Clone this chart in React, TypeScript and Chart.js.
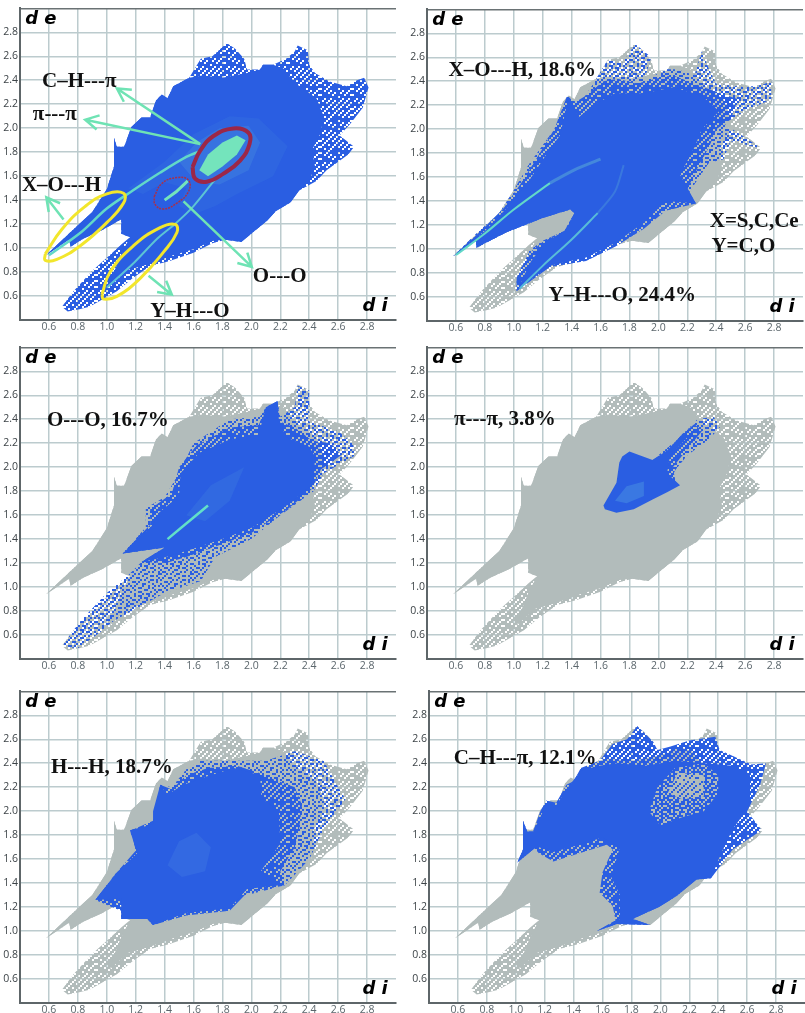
import React, { useEffect, useRef } from "react";
import { Chart, registerables } from "chart.js";

Chart.register(...registerables);

type Pt = [number, number];

const tickLabels = ["0.6","0.8","1.0","1.2","1.4","1.6","1.8","2.0","2.2","2.4","2.6","2.8"];

const outlineAll: Pt[] = [[0.58,0.94],[0.75,1.135],[0.9,1.3],[1.0,1.49],[1.05,1.68],[1.05,1.92],[1.07,1.845],[1.12,1.845],[1.17,2.01],[1.24,2.09],[1.3,2.09],[1.34,2.23],[1.38,2.28],[1.42,2.25],[1.46,2.35],[1.57,2.42],[1.65,2.58],[1.73,2.6],[1.83,2.71],[1.89,2.66],[1.95,2.58],[1.97,2.49],[2.06,2.49],[2.08,2.53],[2.15,2.53],[2.24,2.58],[2.3,2.64],[2.32,2.69],[2.39,2.65],[2.4,2.53],[2.44,2.46],[2.54,2.39],[2.66,2.35],[2.73,2.4],[2.78,2.42],[2.81,2.34],[2.77,2.17],[2.68,2.03],[2.61,1.94],[2.71,1.845],[2.67,1.78],[2.52,1.65],[2.45,1.56],[2.33,1.48],[2.27,1.38],[2.17,1.31],[2.11,1.23],[1.93,1.05],[1.82,1.07],[1.73,1.04],[1.6,0.96],[1.43,0.89],[1.3,0.85],[1.18,0.75],[1.07,0.64],[0.88,0.51],[0.81,0.49],[0.73,0.47],[0.69,0.51],[0.77,0.64],[0.9,0.81],[1.02,0.94],[1.1,1.03],[1.16,1.09],[1.1,1.12],[1.1,1.24],[0.97,1.15],[0.84,1.08],[0.75,1.01],[0.74,1.07]];

const coreAll: Pt[] = [[0.58,0.94],[0.75,1.135],[0.9,1.3],[1.0,1.49],[1.05,1.68],[1.05,1.92],[1.07,1.845],[1.12,1.845],[1.17,2.01],[1.24,2.09],[1.3,2.09],[1.34,2.23],[1.38,2.28],[1.42,2.25],[1.46,2.35],[1.57,2.42],[1.66,2.44],[1.8,2.42],[1.97,2.46],[2.06,2.49],[2.08,2.53],[2.15,2.53],[2.22,2.5],[2.3,2.38],[2.45,2.25],[2.5,2.1],[2.48,1.96],[2.42,1.82],[2.44,1.68],[2.4,1.56],[2.33,1.48],[2.27,1.38],[2.17,1.31],[2.11,1.23],[1.93,1.05],[1.82,1.07],[1.73,1.06],[1.6,0.99],[1.43,0.93],[1.3,0.87],[1.15,0.82],[1.02,0.68],[1.05,0.8],[1.1,0.95],[1.16,1.09],[1.1,1.12],[1.1,1.24],[0.97,1.15],[0.84,1.08],[0.75,1.01],[0.74,1.07]];

const p1GlowWide: Pt[] = [[1.15,1.5],[1.4,1.72],[1.6,1.95],[1.85,2.1],[2.05,2.08],[2.25,1.85],[2.15,1.6],[1.9,1.45],[1.75,1.35],[1.6,1.28],[1.5,1.35],[1.55,1.5],[1.4,1.55],[1.25,1.45]];
const p1GlowMid: Pt[] = [[1.5,1.72],[1.62,1.88],[1.78,2.0],[1.98,2.02],[2.06,1.88],[1.98,1.65],[1.78,1.53],[1.62,1.55]];
const p1Blob: Pt[] = [[1.64,1.65],[1.7,1.78],[1.8,1.88],[1.9,1.94],[1.96,1.9],[1.9,1.78],[1.8,1.68],[1.7,1.6]];
const p1RidgeUpper: Pt[] = [[0.6,0.94],[0.82,1.13],[1.0,1.33],[1.18,1.48],[1.37,1.63],[1.55,1.76],[1.65,1.81]];
const p1RidgeLower: Pt[] = [[1.0,0.67],[1.19,0.88],[1.35,1.08],[1.48,1.21],[1.6,1.35],[1.76,1.59]];
const p1RidgeSmall: Pt[] = [[1.4,1.4],[1.48,1.47],[1.56,1.56]];
const redEllipse: Pt[] = [[1.593,1.676],[1.646,1.812],[1.738,1.935],[1.876,1.998],[1.98,1.962],[1.987,1.867],[1.922,1.73],[1.807,1.621],[1.692,1.553],[1.611,1.58],[1.593,1.676]];
const smallEllipse: Pt[] = [[1.328,1.43],[1.381,1.539],[1.485,1.588],[1.565,1.566],[1.565,1.471],[1.485,1.375],[1.392,1.326],[1.335,1.362],[1.328,1.43]];
const yellowUpper: Pt[] = [[0.575,0.952],[0.69,1.157],[0.851,1.348],[1.0,1.452],[1.116,1.457],[1.116,1.375],[1.0,1.212],[0.817,1.02],[0.655,0.906],[0.575,0.898],[0.575,0.952]];
const yellowLower: Pt[] = [[0.966,0.611],[1.024,0.802],[1.185,1.02],[1.369,1.171],[1.473,1.198],[1.485,1.13],[1.392,0.966],[1.231,0.747],[1.07,0.597],[0.978,0.575],[0.966,0.611]];

const p2Speckle: Pt[] = [[0.58,0.94],[0.75,1.14],[0.9,1.3],[1.0,1.49],[1.1,1.7],[1.25,1.95],[1.3,2.0],[1.38,2.28],[1.45,2.2],[1.55,2.38],[1.65,2.58],[1.75,2.55],[1.84,2.71],[1.95,2.6],[1.9,2.4],[2.05,2.5],[2.13,2.5],[2.25,2.45],[2.3,2.65],[2.35,2.5],[2.4,2.38],[2.6,2.35],[2.72,2.37],[2.78,2.4],[2.78,2.25],[2.6,2.15],[2.45,2.05],[2.71,1.84],[2.5,1.9],[2.45,1.75],[2.35,1.72],[2.2,1.45],[2.0,1.3],[1.85,1.15],[1.6,0.98],[1.2,0.84],[1.02,0.65],[1.02,0.76],[1.1,0.98],[1.2,1.07],[1.35,1.15],[1.42,1.3],[1.39,1.33],[1.2,1.26],[0.95,1.14],[0.74,1.01],[0.74,1.07]];
const p2Dense: Pt[] = [[0.58,0.94],[0.78,1.16],[0.93,1.34],[1.05,1.55],[1.17,1.78],[1.28,2.0],[1.37,2.28],[1.42,2.22],[1.5,2.28],[1.62,2.4],[1.72,2.42],[1.85,2.38],[1.98,2.42],[2.1,2.45],[2.25,2.38],[2.38,2.32],[2.55,2.25],[2.5,2.08],[2.4,2.0],[2.35,1.85],[2.28,1.7],[2.2,1.5],[2.26,1.38],[2.05,1.32],[1.9,1.17],[1.7,1.02],[1.5,0.9],[1.25,0.85],[1.02,0.65],[1.02,0.76],[1.1,0.96],[1.2,1.06],[1.35,1.15],[1.42,1.3],[1.39,1.33],[1.2,1.26],[0.95,1.14],[0.74,1.01],[0.74,1.07]];
const p2Core: Pt[] = [[0.58,0.94],[0.8,1.15],[0.95,1.34],[1.1,1.56],[1.22,1.78],[1.32,1.95],[1.38,2.27],[1.41,2.2],[1.45,2.1],[1.55,2.2],[1.7,2.3],[1.9,2.3],[2.1,2.35],[2.3,2.28],[2.42,2.15],[2.3,2.0],[2.25,1.85],[2.15,1.62],[2.26,1.38],[2.05,1.4],[1.9,1.22],[1.7,1.05],[1.5,0.93],[1.25,0.86],[1.02,0.65],[1.12,0.9],[1.22,1.06],[1.36,1.16],[1.42,1.3],[1.39,1.33],[1.2,1.26],[0.95,1.14],[0.74,1.01],[0.74,1.07]];
const p2RidgeUpper: Pt[] = [[0.6,0.95],[0.8,1.13],[1.0,1.33],[1.25,1.55]];
const p2RidgeUpperFade: Pt[] = [[1.25,1.55],[1.42,1.66],[1.6,1.75]];
const p2RidgeLower: Pt[] = [[1.04,0.67],[1.2,0.86],[1.4,1.08],[1.58,1.3]];
const p2RidgeLowerFade: Pt[] = [[1.58,1.3],[1.7,1.48],[1.76,1.7]];

const p3Speckle: Pt[] = [[1.11,1.28],[1.27,1.5],[1.27,1.66],[1.4,1.75],[1.5,1.95],[1.6,2.2],[1.85,2.4],[2.06,2.42],[2.1,2.5],[2.18,2.55],[2.2,2.42],[2.3,2.5],[2.32,2.68],[2.4,2.64],[2.4,2.38],[2.6,2.3],[2.7,2.2],[2.72,2.1],[2.5,1.95],[2.43,1.8],[2.2,1.6],[2.0,1.4],[1.75,1.25],[1.65,1.05],[1.4,0.95],[1.05,0.72],[0.8,0.49],[0.69,0.51],[0.82,0.72],[1.0,0.95],[1.15,1.1],[1.24,1.21],[1.4,1.33]];
const p3Lower: Pt[] = [[0.69,0.51],[0.8,0.49],[0.95,0.62],[1.08,0.78],[1.2,0.92],[1.3,1.1],[1.25,1.2],[1.1,1.02],[0.9,0.8]];
const p3Dense: Pt[] = [[1.11,1.28],[1.3,1.52],[1.3,1.65],[1.45,1.78],[1.5,2.0],[1.62,2.18],[1.85,2.33],[2.05,2.35],[2.1,2.5],[2.18,2.55],[2.2,2.38],[2.3,2.33],[2.42,2.22],[2.55,2.2],[2.62,2.1],[2.48,1.98],[2.42,1.82],[2.25,1.65],[2.0,1.45],[1.8,1.36],[1.55,1.25],[1.41,1.2],[1.24,1.21],[1.4,1.33]];
const p3Core: Pt[] = [[1.11,1.28],[1.32,1.52],[1.36,1.62],[1.5,1.76],[1.51,1.95],[1.64,2.12],[1.85,2.23],[2.05,2.27],[2.1,2.5],[2.18,2.55],[2.19,2.4],[2.24,2.25],[2.4,2.17],[2.44,2.09],[2.43,1.87],[2.28,1.71],[2.01,1.5],[1.82,1.41],[1.55,1.3],[1.41,1.25],[1.24,1.21],[1.4,1.33]];
const p3GlowMid: Pt[] = [[1.55,1.6],[1.72,1.85],[1.95,2.0],[1.85,1.72],[1.68,1.55]];
const p3Ridge: Pt[] = [[1.42,1.4],[1.6,1.58],[1.7,1.68]];

const p4Speckle: Pt[] = [[2.0,2.1],[2.15,2.25],[2.27,2.4],[2.38,2.42],[2.43,2.34],[2.35,2.23],[2.2,2.1],[2.12,1.98],[2.06,1.85]];
const p4Dense: Pt[] = [[1.96,2.06],[2.06,2.14],[2.17,2.28],[2.25,2.36],[2.3,2.3],[2.2,2.15],[2.1,2.0],[2.12,1.87],[2.0,1.85]];
const p4Core: Pt[] = [[1.62,1.68],[1.71,1.87],[1.73,2.04],[1.75,2.09],[1.8,2.13],[1.87,2.1],[1.96,2.06],[2.06,2.14],[2.17,2.28],[2.2,2.25],[2.08,2.09],[2.06,1.95],[2.15,1.85],[2.06,1.79],[1.96,1.73],[1.83,1.65],[1.71,1.62],[1.63,1.65]];
const p4Glow: Pt[] = [[1.7,1.72],[1.78,1.84],[1.9,1.88],[1.9,1.76],[1.78,1.7]];

const p5Speckle: Pt[] = [[0.92,1.26],[1.07,1.49],[1.21,1.65],[1.16,1.84],[1.32,1.89],[1.37,2.22],[1.45,2.2],[1.55,2.35],[1.65,2.42],[1.85,2.42],[2.1,2.42],[2.3,2.5],[2.5,2.42],[2.6,2.2],[2.65,2.1],[2.5,1.85],[2.4,1.6],[2.23,1.38],[1.97,1.3],[1.85,1.19],[1.55,1.15],[1.32,1.05],[1.28,1.1],[1.1,1.1],[1.1,1.17]];
const p5Dense: Pt[] = [[0.92,1.26],[1.07,1.49],[1.2,1.67],[1.17,1.84],[1.32,1.92],[1.37,2.22],[1.45,2.18],[1.55,2.3],[1.7,2.36],[1.9,2.38],[2.05,2.32],[2.12,2.28],[2.3,2.2],[2.35,2.05],[2.33,1.85],[2.3,1.7],[2.2,1.5],[2.23,1.38],[1.97,1.32],[1.85,1.17],[1.55,1.13],[1.32,1.05],[1.28,1.1],[1.1,1.1],[1.1,1.17]];
const p5Core: Pt[] = [[1.1,1.17],[1.1,1.1],[1.28,1.1],[1.32,1.05],[1.55,1.15],[1.85,1.19],[1.97,1.35],[2.18,1.38],[2.23,1.38],[2.06,1.49],[2.2,1.73],[2.19,2.0],[2.07,2.11],[2.06,2.3],[1.88,2.36],[1.69,2.29],[1.53,2.22],[1.42,2.14],[1.37,2.22],[1.32,2.0],[1.32,1.89],[1.16,1.84],[1.21,1.65],[1.07,1.49],[0.92,1.26],[1.1,1.27]];
const p5Glow: Pt[] = [[1.42,1.55],[1.5,1.75],[1.62,1.82],[1.72,1.7],[1.68,1.5],[1.52,1.45]];

const p6Speckle: Pt[] = [[1.01,1.57],[1.05,1.68],[1.05,1.92],[1.08,1.83],[1.12,1.83],[1.17,2.0],[1.21,2.09],[1.28,2.07],[1.35,2.22],[1.4,2.25],[1.45,2.36],[1.58,2.42],[1.67,2.56],[1.77,2.6],[1.84,2.71],[1.95,2.58],[1.98,2.51],[2.07,2.54],[2.2,2.59],[2.38,2.62],[2.41,2.51],[2.63,2.39],[2.73,2.4],[2.69,2.22],[2.6,2.0],[2.7,1.84],[2.5,1.68],[2.35,1.44],[2.25,1.43],[2.11,1.29],[1.99,1.2],[1.86,1.13],[1.81,1.1],[1.93,1.05],[1.7,1.06],[1.56,1.0],[1.69,1.09],[1.67,1.21],[1.58,1.32],[1.6,1.49],[1.67,1.68],[1.63,1.72],[1.44,1.65],[1.26,1.58],[1.16,1.65],[1.13,1.69]];
const p6Core: Pt[] = [[1.01,1.57],[1.05,1.68],[1.05,1.92],[1.08,1.83],[1.12,1.83],[1.17,1.95],[1.21,2.06],[1.28,2.05],[1.35,2.18],[1.45,2.34],[1.58,2.38],[1.7,2.4],[1.9,2.38],[2.1,2.42],[2.3,2.4],[2.5,2.38],[2.62,2.3],[2.62,2.05],[2.5,1.85],[2.42,1.65],[2.35,1.44],[2.25,1.43],[2.11,1.29],[1.99,1.2],[1.86,1.13],[1.81,1.1],[1.93,1.05],[1.7,1.06],[1.56,1.0],[1.72,1.1],[1.72,1.3],[1.66,1.45],[1.72,1.7],[1.6,1.78],[1.44,1.72],[1.26,1.66],[1.16,1.7],[1.13,1.69]];
const p6Hole: Pt[] = [[1.92,2.0],[1.98,2.2],[2.1,2.36],[2.3,2.4],[2.4,2.3],[2.4,2.15],[2.3,2.0],[2.15,1.95],[2.0,1.88]];
const p6HoleDense: Pt[] = [[2.05,2.15],[2.12,2.32],[2.3,2.3],[2.3,2.12],[2.15,2.1]];

type Arrow = { from: Pt; to: Pt };
const p1Arrows: Arrow[] = [
  { from: [1.646,1.867], to: [1.07,2.331] },
  { from: [1.646,1.867], to: [0.851,2.071] },
  { from: [0.701,1.239], to: [0.582,1.424] },
  { from: [1.531,1.389], to: [2.003,0.843] },
  { from: [1.289,0.769], to: [1.45,0.611] },
];
const p1Notes: [string, number, number][] = [["C–H---π",0.552,2.385],["π---π",0.489,2.112],["X–O---H",0.413,1.525],["O---O",2.01,0.761],["Y–H---O",1.3,0.474]];
const p2Notes: [string, number, number][] = [["X–O---H, 18.6%",0.549,2.487],["Y–H---O, 24.4%",1.24,0.614],["X=S,C,Ce",2.355,1.232],["Y=C,O",2.367,1.023]];
const p3Notes: [string, number, number][] = [["O---O, 16.7%",0.586,2.391]];
const p4Notes: [string, number, number][] = [["π---π, 3.8%",0.586,2.396]];
const p5Notes: [string, number, number][] = [["H---H, 18.7%",0.614,2.364]];
const p6Notes: [string, number, number][] = [["C–H---π, 12.1%",0.572,2.44]];

const BLUE = "#2a5ee2";
const GREY = "#b2bcbb";
const MINT = "#6fe3b4";

const TILE = [
  "x..x.xx...x.x..x",
  ".x....x.xx...x..",
  "..xx.x...x.xx..x",
  "x...x..xx....x..",
  ".xx...x...x.x..x",
  "x..x.x..xx.....x",
  "..x....x...xx.x.",
  ".x..xx...x.....x",
  "x.....x.x..xx.x.",
  "..xx.x....x...x.",
  "x...x..xx...x...",
  ".x.x...x..x..x.x",
  "..x..xx...x.x...",
  "x..x....xx...x.x",
  ".x...xx....x..x.",
  "...x...x.xx..x..",
];

function pattern(color: string, dense: boolean): CanvasPattern {
  const c = document.createElement("canvas");
  c.width = 32;
  c.height = 32;
  const g = c.getContext("2d")!;
  g.fillStyle = color;
  TILE.forEach((row, r) => {
    for (let k = 0; k < row.length; k++) {
      const on = row[k] === "x";
      const paint = dense ? !(!on && (r + k) % 3 === 0) : on;
      if (paint) g.fillRect(k * 2, r * 2, 2, 2);
    }
  });
  return g.createPattern(c, "repeat")!;
}

type Layer = { pts: Pt[]; fill?: any; line?: string; width?: number; tension?: number; dash?: number[] };

function panels() {
  const greyDense = pattern(GREY, true);
  const blueDense = pattern(BLUE, true);
  const blueSparse = pattern(BLUE, false);
  const greySparse = pattern(GREY, false);
  const base: Layer[] = [{ pts: outlineAll, fill: greyDense }, { pts: coreAll, fill: GREY }];
  return [
    {
      notes: p1Notes, arrows: p1Arrows,
      layers: [
        { pts: outlineAll, fill: blueDense },
        { pts: coreAll, fill: BLUE },
        { pts: p1GlowWide, fill: "rgba(70,140,225,0.16)" },
        { pts: p1GlowMid, fill: "rgba(90,170,225,0.22)" },
        { pts: p1Blob, fill: "#74e4bc" },
        { pts: p1RidgeUpper, line: "#62d8c8", width: 2.5, tension: 0.3 },
        { pts: p1RidgeLower, line: "#5cc4d4", width: 2, tension: 0.3 },
        { pts: p1RidgeSmall, line: "#74e4bc", width: 3 },
        { pts: redEllipse, line: "#9c2748", width: 4, tension: 0.45 },
        { pts: smallEllipse, line: "#a8304c", width: 1.5, tension: 0.45, dash: [2, 1] },
        { pts: yellowUpper, line: "#f2e62c", width: 3, tension: 0.45 },
        { pts: yellowLower, line: "#f2e62c", width: 3, tension: 0.45 },
      ] as Layer[],
    },
    {
      notes: p2Notes, arrows: [],
      layers: [
        ...base,
        { pts: p2Speckle, fill: blueSparse },
        { pts: p2Dense, fill: blueDense },
        { pts: p2Core, fill: BLUE },
        { pts: p2RidgeUpperFade, line: "#4488dc", width: 3, tension: 0.3 },
        { pts: p2RidgeLowerFade, line: "#3a78de", width: 2, tension: 0.3 },
        { pts: p2RidgeUpper, line: "#62d8c8", width: 2, tension: 0.3 },
        { pts: p2RidgeLower, line: "#58bcd8", width: 2, tension: 0.3 },
      ] as Layer[],
    },
    {
      notes: p3Notes, arrows: [],
      layers: [
        ...base,
        { pts: p3Speckle, fill: blueSparse },
        { pts: p3Lower, fill: blueSparse },
        { pts: p3Dense, fill: blueDense },
        { pts: p3Core, fill: BLUE },
        { pts: p3GlowMid, fill: "rgba(80,150,225,0.2)" },
        { pts: p3Ridge, line: "#62e0c8", width: 2.5, tension: 0.3 },
      ] as Layer[],
    },
    {
      notes: p4Notes, arrows: [],
      layers: [
        ...base,
        { pts: p4Speckle, fill: blueSparse },
        { pts: p4Dense, fill: blueDense },
        { pts: p4Core, fill: BLUE },
        { pts: p4Glow, fill: "rgba(90,170,225,0.35)" },
      ] as Layer[],
    },
    {
      notes: p5Notes, arrows: [],
      layers: [
        ...base,
        { pts: p5Speckle, fill: blueSparse },
        { pts: p5Dense, fill: blueDense },
        { pts: p5Core, fill: BLUE },
        { pts: p5Glow, fill: "rgba(90,150,230,0.2)" },
      ] as Layer[],
    },
    {
      notes: p6Notes, arrows: [],
      layers: [
        ...base,
        { pts: p6Speckle, fill: blueDense },
        { pts: p6Core, fill: BLUE },
        { pts: p6Hole, fill: greySparse },
        { pts: p6HoleDense, fill: greyDense },
      ] as Layer[],
    },
  ];
}

function notesPlugin(notes: [string, number, number][], arrows: Arrow[]) {
  return {
    id: "notes",
    afterDatasetsDraw(chart: any) {
      const { ctx, scales } = chart;
      const X = (v: number) => scales.x.getPixelForValue(v);
      const Y = (v: number) => scales.y.getPixelForValue(v);
      ctx.save();
      ctx.strokeStyle = MINT;
      ctx.lineWidth = 2.5;
      for (const a of arrows) {
        const x1 = X(a.from[0]), y1 = Y(a.from[1]), x2 = X(a.to[0]), y2 = Y(a.to[1]);
        const ang = Math.atan2(y2 - y1, x2 - x1);
        ctx.beginPath();
        ctx.moveTo(x1, y1);
        ctx.lineTo(x2, y2);
        ctx.moveTo(x2 - 15 * Math.cos(ang - 0.5), y2 - 15 * Math.sin(ang - 0.5));
        ctx.lineTo(x2, y2);
        ctx.lineTo(x2 - 15 * Math.cos(ang + 0.5), y2 - 15 * Math.sin(ang + 0.5));
        ctx.stroke();
      }
      ctx.fillStyle = "#111";
      ctx.textAlign = "left";
      ctx.textBaseline = "middle";
      ctx.font = "bold 21px 'Liberation Serif'";
      for (const [t, x, y] of notes) ctx.fillText(t, X(x), Y(y));
      ctx.font = "italic bold 18px 'DejaVu Sans'";
      ctx.fillStyle = "#000";
      ctx.fillText("d e", X(0.436), Y(2.91));
      ctx.fillText("d i", X(2.768), Y(0.512));
      ctx.restore();
    },
  };
}

const tickText = (v: any) => {
  const s = Number(v).toFixed(1);
  return tickLabels.includes(s) ? s : "";
};

export default function App() {
  const refs = useRef<(HTMLCanvasElement | null)[]>([]);
  const conf = [
    { left: 0, top: 0 }, { left: 407, top: 1 },
    { left: 0, top: 339 }, { left: 407, top: 339 },
    { left: 0, top: 683 }, { left: 409, top: 683 },
  ];
  useEffect(() => {
    const charts = panels().map((p, i) =>
      new Chart(refs.current[i]!, {
        type: "scatter",
        data: {
          datasets: [...p.layers].reverse().map((l) => ({
            data: l.pts.map(([x, y]) => ({ x, y })),
            showLine: true,
            pointRadius: 0,
            fill: l.fill ? "shape" : false,
            backgroundColor: l.fill ?? "transparent",
            borderColor: l.line ?? "transparent",
            borderWidth: l.line ? l.width : 0,
            borderDash: l.dash ?? [],
            tension: l.tension ?? 0,
          })),
        },
        options: {
          animation: false,
          responsive: false,
          events: [],
          layout: { padding: { top: 2, right: 1, left: 0, bottom: 0 } },
          plugins: { legend: { display: false }, tooltip: { enabled: false } },
          scales: {
            x: {
              type: "linear", min: 0.4, max: 3.0,
              afterFit: (s: any) => { s.height = 17; },
              ticks: { stepSize: 0.2, autoSkip: false, maxRotation: 0, padding: 1, color: "#5b666c", font: { family: "'Open Sans'", size: 10.5 }, callback: tickText },
              grid: {
                drawTicks: false, lineWidth: 1.5,
                color: (c: any) => (c.tick && c.tick.value > 2.95 ? "transparent" : "#bccbce"),
              },
              border: { color: "#5e6669", width: 2 },
            },
            y: {
              type: "linear", min: 0.4, max: 3.0,
              afterFit: (s: any) => { s.width = 20; },
              ticks: { stepSize: 0.2, autoSkip: false, padding: 2, color: "#3d4448", font: { family: "'Open Sans'", size: 10.5 }, callback: tickText },
              grid: {
                drawTicks: false, lineWidth: 1.5,
                color: (c: any) => (c.tick && c.tick.value > 2.95 ? "#6a7274" : "#bccbce"),
              },
              border: { color: "#5e6669", width: 2 },
            },
          },
        } as any,
        plugins: [notesPlugin(p.notes, p.arrows)],
      } as any)
    );
    return () => charts.forEach((c) => c.destroy());
  }, []);
  return (
    <div style={{ position: "fixed", left: 0, top: 0, width: 805, height: 1013, overflow: "hidden", background: "#fff" }}>
      {conf.map((c, i) => (
        <canvas
          key={i}
          ref={(el) => { refs.current[i] = el; }}
          width={397}
          height={337}
          style={{ position: "absolute", left: c.left, top: c.top, width: 397, height: 337 }}
        />
      ))}
    </div>
  );
}
